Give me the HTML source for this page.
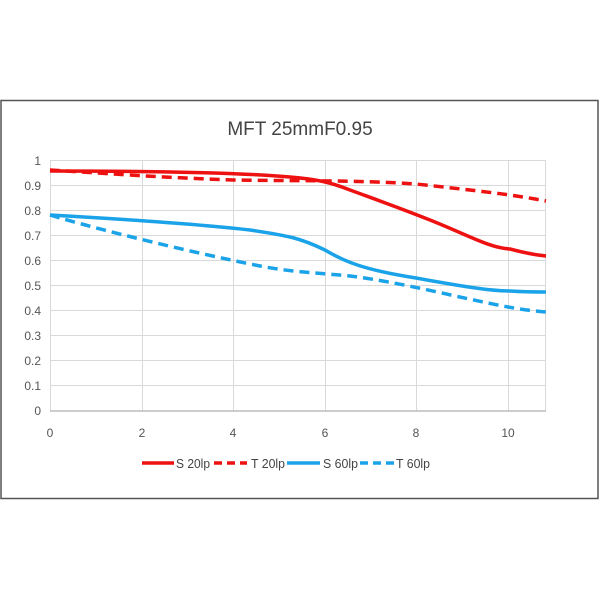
<!DOCTYPE html><html><head><meta charset="utf-8"><style>body{margin:0;background:#fff}</style></head><body>
<svg width="600" height="600" xmlns="http://www.w3.org/2000/svg" font-family="Liberation Sans, sans-serif">
<rect x="1" y="100.5" width="597" height="398" fill="#fff" stroke="#555" stroke-width="1.5"/>
<text x="300" y="135" font-size="19" fill="#444" text-anchor="middle">MFT  25mmF0.95</text>
<g stroke="#d9d9d9" stroke-width="1">
<line x1="50" y1="160.5" x2="546" y2="160.5"/><line x1="50" y1="185.5" x2="546" y2="185.5"/><line x1="50" y1="210.5" x2="546" y2="210.5"/><line x1="50" y1="235.5" x2="546" y2="235.5"/><line x1="50" y1="260.5" x2="546" y2="260.5"/><line x1="50" y1="285.5" x2="546" y2="285.5"/><line x1="50" y1="310.5" x2="546" y2="310.5"/><line x1="50" y1="335.5" x2="546" y2="335.5"/><line x1="50" y1="360.5" x2="546" y2="360.5"/><line x1="50" y1="385.5" x2="546" y2="385.5"/>
<line x1="142.5" y1="160" x2="142.5" y2="411"/><line x1="233.5" y1="160" x2="233.5" y2="411"/><line x1="325.5" y1="160" x2="325.5" y2="411"/><line x1="416.5" y1="160" x2="416.5" y2="411"/><line x1="508.5" y1="160" x2="508.5" y2="411"/><line x1="545.5" y1="160" x2="545.5" y2="411"/>
<line x1="50.5" y1="160" x2="50.5" y2="411"/>
</g>
<line x1="50" y1="411" x2="546" y2="411" stroke="#bbb" stroke-width="1.5"/>
<g font-size="12" fill="#555" text-anchor="end">
<text x="41" y="165">1</text><text x="41" y="190">0.9</text><text x="41" y="215">0.8</text><text x="41" y="240">0.7</text><text x="41" y="265">0.6</text><text x="41" y="290">0.5</text><text x="41" y="315">0.4</text><text x="41" y="340">0.3</text><text x="41" y="365">0.2</text><text x="41" y="390">0.1</text><text x="41" y="415">0</text>
</g>
<g font-size="12" fill="#555" text-anchor="middle">
<text x="50" y="437">0</text><text x="142" y="437">2</text><text x="233" y="437">4</text><text x="325" y="437">6</text><text x="416" y="437">8</text><text x="508" y="437">10</text>
</g>
<g fill="none" stroke-width="3.5" stroke-linecap="butt">
<path d="M50,171 C120,171 233,172 290,177 C315,179 330,182 350,190 C380,201 400,208 430,220 C470,236 490,248 510,249 C525,253 535,255 546,256" stroke="#ee1111"/>
<path d="M50,170 C100,173 150,177 233,180 C290,181 360,180 416,184 C470,190 510,194 546,201" stroke="#ee1111" stroke-dasharray="10,6"/>
<path d="M50,215 C120,219 200,224 250,230 C290,236 300,238 325,250 C345,262 365,270 416,278 C460,286 490,291 510,291 C525,292 535,292 546,292" stroke="#1aa3e8"/>
<path d="M50,215 C100,230 190,252 260,266 C290,272 320,273 350,276 C400,282 460,298 508,307 C525,310 535,311 546,312" stroke="#1aa3e8" stroke-dasharray="10,6"/>
</g>
<g stroke-width="3.5">
<line x1="142" y1="463" x2="174" y2="463" stroke="#ee1111"/>
<line x1="214" y1="463" x2="247" y2="463" stroke="#ee1111" stroke-dasharray="8,5"/>
<line x1="287" y1="463" x2="320" y2="463" stroke="#1aa3e8"/>
<line x1="360" y1="463" x2="394" y2="463" stroke="#1aa3e8" stroke-dasharray="8,5"/>
</g>
<g font-size="13" fill="#444">
<text x="176" y="468" textLength="34" lengthAdjust="spacingAndGlyphs">S 20lp</text><text x="251" y="468" textLength="34" lengthAdjust="spacingAndGlyphs">T 20lp</text><text x="323" y="468" textLength="35" lengthAdjust="spacingAndGlyphs">S 60lp</text><text x="396" y="468" textLength="34" lengthAdjust="spacingAndGlyphs">T 60lp</text>
</g>
</svg>
</body></html>
